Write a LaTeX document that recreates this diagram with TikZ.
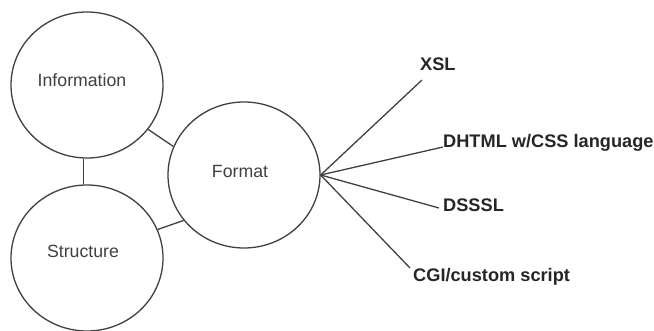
\documentclass[tikz,border=0pt]{standalone}
\usepackage{fontspec}
\setmainfont{Liberation Sans}
\usetikzlibrary{shapes.geometric}
\begin{document}
\begin{tikzpicture}[x=1pt,y=-1pt,
  ink/.style={draw=black!75,line width=1.3pt},
  bubble/.style={ink,ellipse,minimum width=152pt,minimum height=146pt,inner sep=0pt},
  ctext/.style={anchor=base,inner sep=0pt,text=black!75,font=\fontsize{17.7}{20}\selectfont},
  btext/.style={anchor=base west,inner sep=0pt,text=black!85,font=\fontsize{18.2}{21}\selectfont\bfseries},
  link/.style={ink}]
  \useasboundingbox (0,0) rectangle (654,331);

  % the three circles
  \node[bubble] (info)   at (87,85)  {};
  \node[bubble] (struct) at (87,258) {};
  \node[bubble] (fmt)    at (244,175) {};
  \node[ctext] (infot)   at (82,87)  {Information};
  \node[ctext] (structt) at (83,258) {Structure};
  \node[ctext] (fmtt)    at (240,178) {Format};

  % links between the circles
  \draw[link] (info.-93) -- (struct.93);
  \draw[link] (info.-36) -- (fmt.158);
  \draw[link] (struct.22) -- (fmt.217);

  % formatting technologies
  \node[btext] (xsl)   at (420,71)  {XSL};
  \node[btext] (dhtml) at (443,148) {DHTML w/CSS language};
  \node[btext] (dsssl) at (443,212) {DSSSL};
  \node[btext] (cgi)   at (413,282) {CGI/custom script};

  \coordinate (xslend)   at (422,80);
  \coordinate (dhtmlend) at (443,147);
  \coordinate (dssslend) at (439,208);
  \coordinate (cgiend)   at (410,268);

  \draw[link] (fmt.east) -- (xslend);
  \draw[link] (fmt.east) -- (dhtmlend);
  \draw[link] (fmt.east) -- (dssslend);
  \draw[link] (fmt.east) -- (cgiend);
\end{tikzpicture}
\end{document}
